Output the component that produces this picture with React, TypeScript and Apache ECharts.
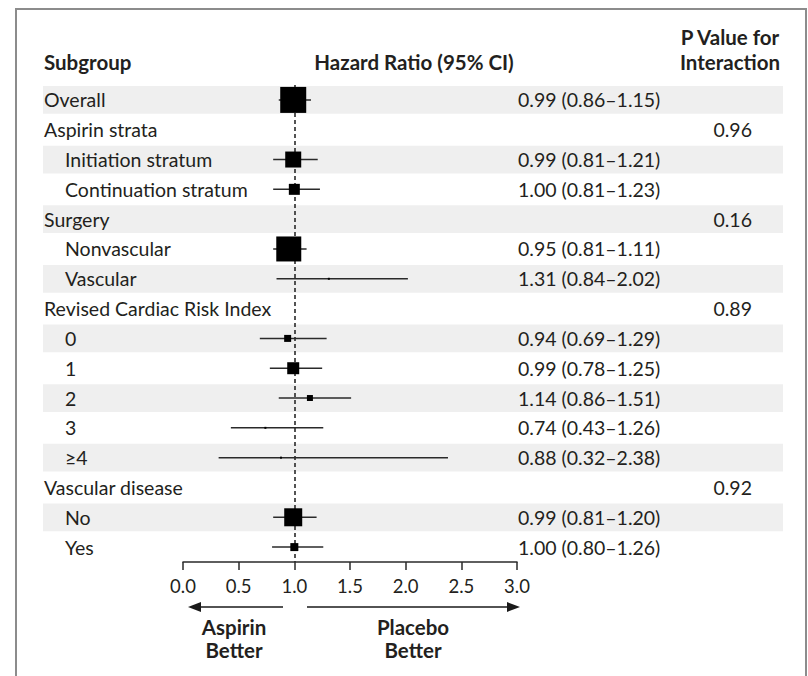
import React, { useEffect, useRef } from "react";
import * as echarts from "echarts";

const subgroups = [
  "Overall",
  "Aspirin strata",
  "Initiation stratum",
  "Continuation stratum",
  "Surgery",
  "Nonvascular",
  "Vascular",
  "Revised Cardiac Risk Index",
  "0",
  "1",
  "2",
  "3",
  "≥4",
  "Vascular disease",
  "No",
  "Yes",
];
const indented = [0, 0, 1, 1, 0, 1, 1, 0, 1, 1, 1, 1, 1, 0, 1, 1];
const hazardRatio = [0.99, null, 0.99, 1.0, null, 0.95, 1.31, null, 0.94, 0.99, 1.14, 0.74, 0.88, null, 0.99, 1.0];
const ciLower = [0.86, null, 0.81, 0.81, null, 0.81, 0.84, null, 0.69, 0.78, 0.86, 0.43, 0.32, null, 0.81, 0.8];
const ciUpper = [1.15, null, 1.21, 1.23, null, 1.11, 2.02, null, 1.29, 1.25, 1.51, 1.26, 2.38, null, 1.2, 1.26];
const weights = [26, null, 16, 11, null, 25, 2, null, 7, 12, 6, 2, 2, null, 18, 8];
const pInteraction = ["", "0.96", "", "", "0.16", "", "", "0.89", "", "", "", "", "", "0.92", "", ""];
const xTicks = { min: 0, max: 3, interval: 0.5 };

const FONT = "Lato, 'Open Sans', sans-serif";
const TEXT = "#231f20";
const REG = `19.5px ${FONT}`;
const BOLD = `bold 20.5px ${FONT}`;

export default function App() {
  const ref = useRef<HTMLDivElement>(null);
  useEffect(() => {
    if (!ref.current) return;
    const chart = echarts.init(ref.current, null, { renderer: "svg" });

    const forestData: number[][] = [];
    hazardRatio.forEach((h, i) => {
      if (h !== null) forestData.push([i, ciLower[i] as number, ciUpper[i] as number, h, weights[i] as number]);
    });
    const rows = subgroups.map((_, i) => [i]);
    const bandRows = subgroups.map((_, i) => [i]).filter((r) => r[0] % 2 === 0);

    const option: any = {
      animation: false,
      backgroundColor: "#ffffff",
      grid: { left: 183, width: 334, top: 85, height: 477 },
      xAxis: {
        type: "value",
        min: xTicks.min,
        max: xTicks.max,
        interval: xTicks.interval,
        splitLine: { show: false },
        axisLine: { show: true, onZero: false, lineStyle: { color: "#2a2a2a", width: 1.5 } },
        axisTick: { show: true, length: 8, inside: false, lineStyle: { color: "#2a2a2a", width: 1.5 } },
        axisLabel: {
          margin: 14,
          fontSize: 18.5,
          fontFamily: FONT,
          color: TEXT,
          formatter: (v: number) => v.toFixed(1),
        },
      },
      yAxis: {
        type: "value",
        min: -0.5,
        max: subgroups.length - 0.5,
        inverse: true,
        show: false,
      },
      series: [
        {
          type: "custom",
          z: 1,
          clip: false,
          silent: true,
          data: bandRows,
          renderItem: (params: any, api: any) => {
            const c = api.coord([0, api.value(0)]);
            const h = api.size([0, 1])[1];
            return {
              type: "rect",
              shape: { x: 43, y: c[1] - h / 2 + 1, width: 740, height: h - 2 },
              style: { fill: "#efefef" },
            };
          },
        },
        {
          type: "custom",
          z: 3,
          clip: false,
          silent: true,
          data: forestData,
          encode: { x: [1, 2, 3], y: 0 },
          renderItem: (params: any, api: any) => {
            const i = api.value(0);
            const p1 = api.coord([api.value(1), i]);
            const p2 = api.coord([api.value(2), i]);
            const pc = api.coord([api.value(3), i]);
            const s = api.value(4);
            return {
              type: "group",
              children: [
                {
                  type: "line",
                  shape: { x1: p1[0], y1: p1[1], x2: p2[0], y2: p2[1] },
                  style: { stroke: "#2a2a2a", lineWidth: 1.5 },
                },
                {
                  type: "rect",
                  shape: { x: pc[0] - s / 2, y: pc[1] - s / 2, width: s, height: s },
                  style: { fill: "#000000" },
                },
              ],
            };
          },
          markLine: {
            silent: true,
            symbol: "none",
            label: { show: false },
            lineStyle: { color: "#2a2a2a", width: 1.6, type: [4, 3] },
            data: [{ xAxis: 1 }],
            z: 2,
          },
        },
        {
          type: "custom",
          z: 4,
          clip: false,
          silent: true,
          data: rows,
          renderItem: (params: any, api: any) => {
            const i = api.value(0);
            const y = api.coord([0, i])[1];
            const children: any[] = [
              {
                type: "text",
                style: {
                  x: indented[i] ? 65 : 44,
                  y,
                  text: subgroups[i],
                  font: REG,
                  fill: TEXT,
                  align: "left",
                  verticalAlign: "middle",
                },
              },
            ];
            const h = hazardRatio[i];
            if (h !== null) {
              children.push({
                type: "text",
                style: {
                  x: 518,
                  y,
                  text: `${h.toFixed(2)} (${(ciLower[i] as number).toFixed(2)}–${(ciUpper[i] as number).toFixed(2)})`,
                  font: REG,
                  fill: TEXT,
                  align: "left",
                  verticalAlign: "middle",
                },
              });
            }
            if (pInteraction[i]) {
              children.push({
                type: "text",
                style: {
                  x: 752,
                  y,
                  text: pInteraction[i],
                  font: REG,
                  fill: TEXT,
                  align: "right",
                  verticalAlign: "middle",
                },
              });
            }
            return { type: "group", children };
          },
        },
      ],
      graphic: [
        {
          type: "rect",
          shape: { x: 16, y: 9, width: 790, height: 700 },
          style: { fill: "none", stroke: "#8c8c8c", lineWidth: 2 },
          z: 0,
        },
        { type: "text", style: { x: 44, y: 62, text: "Subgroup", font: BOLD, fill: TEXT, align: "left", verticalAlign: "middle" } },
        { type: "text", style: { x: 414, y: 62, text: "Hazard Ratio (95% CI)", font: BOLD, fill: TEXT, align: "center", verticalAlign: "middle" } },
        { type: "text", style: { x: 730, y: 37, text: "P Value for", font: BOLD, fill: TEXT, align: "center", verticalAlign: "middle" } },
        { type: "text", style: { x: 730, y: 62, text: "Interaction", font: BOLD, fill: TEXT, align: "center", verticalAlign: "middle" } },
        { type: "line", shape: { x1: 283, y1: 607, x2: 196, y2: 607 }, style: { stroke: "#1a1a1a", lineWidth: 1.5 } },
        { type: "polygon", shape: { points: [[188, 607], [201, 602], [201, 612]] }, style: { fill: "#1a1a1a" } },
        { type: "line", shape: { x1: 307, y1: 607, x2: 512, y2: 607 }, style: { stroke: "#1a1a1a", lineWidth: 1.5 } },
        { type: "polygon", shape: { points: [[520, 607], [507, 602], [507, 612]] }, style: { fill: "#1a1a1a" } },
        { type: "text", style: { x: 234, y: 627, text: "Aspirin", font: BOLD, fill: TEXT, align: "center", verticalAlign: "middle" } },
        { type: "text", style: { x: 234, y: 650, text: "Better", font: BOLD, fill: TEXT, align: "center", verticalAlign: "middle" } },
        { type: "text", style: { x: 413, y: 627, text: "Placebo", font: BOLD, fill: TEXT, align: "center", verticalAlign: "middle" } },
        { type: "text", style: { x: 413, y: 650, text: "Better", font: BOLD, fill: TEXT, align: "center", verticalAlign: "middle" } },
      ],
    };
    chart.setOption(option);
    return () => chart.dispose();
  }, []);
  return <div ref={ref} style={{ position: "fixed", left: 0, top: 0, width: 808, height: 676 }} />;
}
